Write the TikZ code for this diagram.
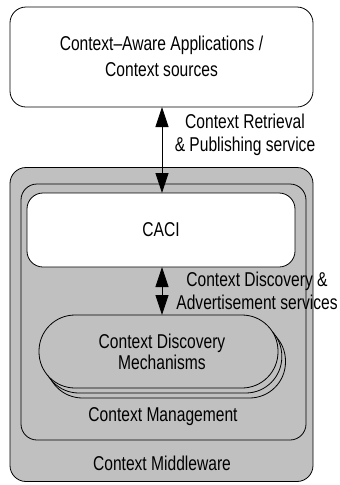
\documentclass[tikz,border=0pt]{standalone}
\usepackage{fontspec}
\setmainfont{Liberation Sans}[FakeStretch=0.78]
\usetikzlibrary{arrows.meta}
\definecolor{boxgray}{RGB}{192,192,192}
\begin{document}
\begin{tikzpicture}[x=1pt,y=-1pt,
  every node/.style={inner sep=0pt, outer sep=0pt},
  lbl/.style={font=\fontsize{20}{23}\selectfont, align=center},
  rbox/.style={draw, line width=0.8pt, rounded corners=16pt},
  conn/.style={line width=0.8pt, {Triangle[length=20pt,width=13pt]}-{Triangle[length=20pt,width=13pt]}, shorten <=0pt, shorten >=0pt},
  stad/.style={draw, line width=0.8pt, fill=boxgray, rounded corners=36pt}
]
\useasboundingbox (0,0) rectangle (340,485);
% top box
\node[rbox, fill=white, minimum width=303pt, minimum height=100pt] (apps) at (161.5,57) {};
\node[lbl, font=\fontsize{20}{26}\selectfont] (appst) at (161.5,56) {Context–Aware Applications /\\Context sources};
% middleware
\node[rbox, fill=boxgray, minimum width=303pt, minimum height=314pt] (mw) at (161.5,324.5) {};
\node[lbl] (mwt) at (162,463) {Context Middleware};
% context management
\node[rbox, fill=boxgray, minimum width=285pt, minimum height=256pt] (cm) at (163.5,312) {};
\node[lbl] (cmt) at (163,417) {Context Management};
% CACI
\node[rbox, fill=white, minimum width=268pt, minimum height=74pt] (caci) at (161,230) {};
\node[lbl] (cacit) at (161,230) {CACI};
% stacked discovery mechanisms
\node[stad, minimum width=239pt, minimum height=73pt] (cdm3) at (166,361.5) {};
\node[stad, minimum width=239pt, minimum height=73pt] (cdm2) at (162.3,356.5) {};
\node[stad, minimum width=239pt, minimum height=73pt] (cdm) at (158.5,351.5) {};
\node[lbl, font=\fontsize{20}{21}\selectfont] (cdmt) at (162,352) {Context Discovery\\Mechanisms};
% connectors
\coordinate (a1) at (162,107);
\coordinate (a2) at (162,193);
\coordinate (b1) at (162,267);
\coordinate (b2) at (162,315);
\draw[conn] (a1) -- (a2);
\draw[conn] (b1) -- (b2);
\node[lbl] (l1) at (245,135) {Context Retrieval\\\& Publishing service};
\node[lbl] (l2) at (257,291) {Context Discovery \&\\Advertisement services};
\end{tikzpicture}
\end{document}
